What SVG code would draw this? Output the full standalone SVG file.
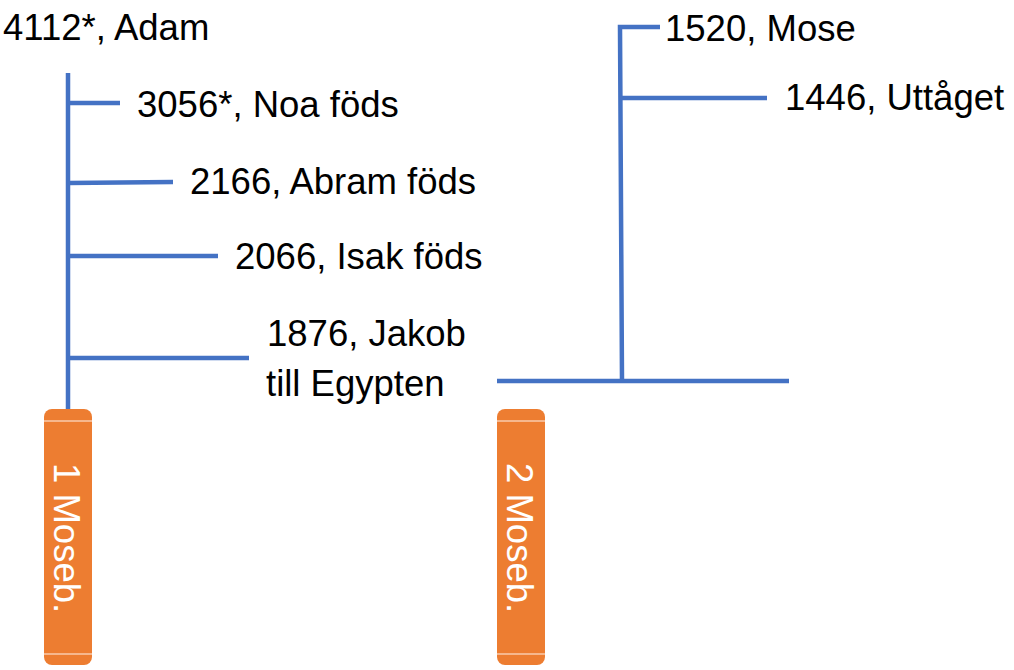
<svg xmlns="http://www.w3.org/2000/svg" width="1014" height="670" viewBox="0 0 1014 670">
<style>
.ln{stroke:#4472C4;stroke-width:4.5;fill:none}
.t{font-family:"Liberation Sans",Arial,sans-serif;font-size:36.5px;fill:#000}
.bar{fill:#ED7D31}
.hl{stroke:#F8CBAD;stroke-width:1.5}
.bt{font-family:"Liberation Sans",Arial,sans-serif;font-size:36.5px;fill:#fff}
</style>
<rect width="1014" height="670" fill="#fff"/>
<g id="connectors">
<line class="ln" x1="68" y1="73" x2="68" y2="410"/>
<line class="ln" x1="68" y1="103" x2="120" y2="103"/>
<line class="ln" x1="68" y1="183" x2="173" y2="182"/>
<line class="ln" x1="68" y1="256" x2="218" y2="256"/>
<line class="ln" x1="68" y1="358" x2="249" y2="358"/>
<polyline class="ln" points="660,27 620,27 622,382"/>
<line class="ln" x1="621" y1="98" x2="767" y2="98"/>
<line class="ln" x1="497" y1="381" x2="789" y2="381"/>
</g>
<g id="adam"><text class="t" x="3" y="40">4112*, Adam</text></g>
<g id="noa"><text class="t" x="137" y="117">3056*, Noa föds</text></g>
<g id="abram"><text class="t" x="190" y="194">2166, Abram föds</text></g>
<g id="isak"><text class="t" x="235" y="269">2066, Isak föds</text></g>
<g id="jakob"><text class="t" x="267" y="346">1876, Jakob</text><text class="t" x="266" y="396">till Egypten</text></g>
<g id="mose"><text class="t" x="665" y="41">1520, Mose</text></g>
<g id="uttaget"><text class="t" x="785" y="110">1446, Uttåget</text></g>
<g id="moseb1">
<rect class="bar" x="44" y="409" width="48" height="256" rx="8"/>
<line class="hl" x1="44" y1="421" x2="92" y2="421"/>
<line class="hl" x1="44" y1="654" x2="92" y2="654"/>
<text class="bt" transform="translate(54,463) rotate(90)">1 Moseb.</text>
</g>
<g id="moseb2">
<rect class="bar" x="497" y="409" width="48" height="256" rx="8"/>
<line class="hl" x1="497" y1="421" x2="545" y2="421"/>
<line class="hl" x1="497" y1="654" x2="545" y2="654"/>
<text class="bt" transform="translate(507,463) rotate(90)">2 Moseb.</text>
</g>
</svg>
